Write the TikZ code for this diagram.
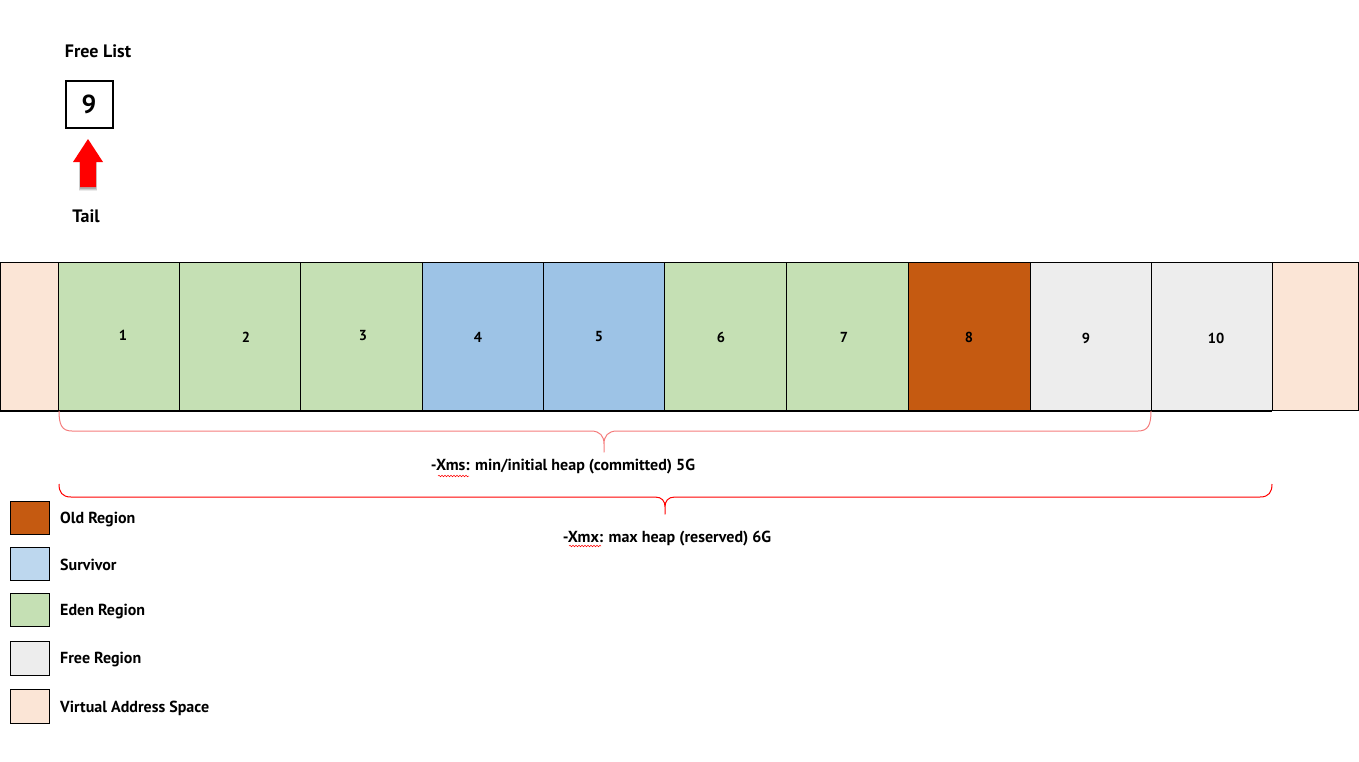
\documentclass[tikz,border=0pt]{standalone}
\usepackage{fontspec}
\setmainfont{PT Sans}
\usetikzlibrary{decorations.pathmorphing}
\definecolor{eden}{HTML}{C5E0B4}
\definecolor{surv}{HTML}{9DC3E6}
\definecolor{survlight}{HTML}{BDD7EE}
\definecolor{oldc}{HTML}{C55A11}
\definecolor{freec}{HTML}{EDEDED}
\definecolor{virt}{HTML}{FBE5D6}
\definecolor{braceA}{HTML}{F47C7C}
\definecolor{braceB}{HTML}{FF0000}
\begin{document}
\begin{tikzpicture}[x=1pt,y=-1pt,
  cell/.style={draw=black, line width=0.9pt, minimum height=148.5pt, inner sep=0pt, outer sep=0pt},
  num/.style={font=\fontsize{14.5}{17}\selectfont\bfseries, inner sep=0pt},
  lbl/.style={font=\fontsize{16}{19}\selectfont\bfseries, anchor=west, inner sep=0pt},
  note/.style={font=\fontsize{16}{19}\selectfont\bfseries, inner sep=0pt},
  heading/.style={font=\fontsize{18}{21}\selectfont\bfseries, inner sep=0pt},
  legbox/.style={draw=black, line width=1pt, minimum width=39pt, minimum height=33pt, inner sep=0pt},
  bracepath/.style={line width=1pt, line join=round},
  squig/.style={draw=red, line width=0.5pt, decorate, decoration={snake, segment length=3pt, amplitude=0.8pt}}]
\useasboundingbox (0,0) rectangle (1359,761);

% ---- heap strip ----
\node[cell, fill=virt, minimum width=58pt] (vl) at (29,336.25) {};
\node[cell, fill=eden, minimum width=121pt] (c1) at (118.5,336.25) {};
\node[cell, fill=eden, minimum width=121pt] (c2) at (239.5,336.25) {};
\node[cell, fill=eden, minimum width=122pt] (c3) at (361,336.25) {};
\node[cell, fill=surv, minimum width=121pt] (c4) at (482.5,336.25) {};
\node[cell, fill=surv, minimum width=121pt] (c5) at (603.5,336.25) {};
\node[cell, fill=eden, minimum width=122pt] (c6) at (725,336.25) {};
\node[cell, fill=eden, minimum width=122pt] (c7) at (847,336.25) {};
\node[cell, fill=oldc, minimum width=122pt] (c8) at (969,336.25) {};
\node[cell, fill=freec, minimum width=121pt] (c9) at (1090.5,336.25) {};
\node[cell, fill=freec, minimum width=121pt] (c10) at (1211.5,336.25) {};
\node[cell, fill=virt, minimum width=86pt] (vr) at (1315,336.25) {};
\draw[line width=2pt] (vl.south west) -- (c10.south east);

\node[num] (n1) at (123,335) {1};
\node[num] (n2) at (246,337) {2};
\node[num] (n3) at (363,336) {3};
\node[num] (n4) at (478,337) {4};
\node[num] (n5) at (599,337) {5};
\node[num] (n6) at (721,337) {6};
\node[num] (n7) at (844,337) {7};
\node[num] (n8) at (969,337) {8};
\node[num] (n9) at (1086,338) {9};
\node[num] (n10) at (1216,338) {10};

% ---- braces ----
\coordinate (a1) at (59,411);
\coordinate (a2) at (1151,411);
\coordinate (b1) at (59,484);
\coordinate (b2) at (1272,484);
\draw[bracepath, braceA] (a1) .. controls (59,425) and (62,431) .. (72,431) -- (591,431)
  .. controls (600,431) and (604,436) .. (604,444) -- (604,452) -- (604,444)
  .. controls (604,436) and (608,431) .. (617,431) -- (1138,431)
  .. controls (1148,431) and (1151,425) .. (a2);
\draw[bracepath, braceB] (b1) .. controls (59,492) and (62,497) .. (71,497) -- (655,497)
  .. controls (662,497) and (665,501) .. (665,507) -- (665,514) -- (665,507)
  .. controls (665,501) and (668,497) .. (675,497) -- (1260,497)
  .. controls (1269,497) and (1272,492) .. (b2);

\node[note] (t1) at (563,467) {-Xms: min/initial heap (committed) 5G};
\node[note] (t2) at (667,539) {-Xmx: max heap (reserved) 6G};
\draw[squig] (438,476) -- (469,476);
\draw[squig] (569,546) -- (601,546);

% ---- free list ----
\node[heading] (fl) at (98,51.5) {Free List};
\node[draw=black, line width=2pt, minimum width=47pt, minimum height=47pt, inner sep=0pt,
      font=\fontsize{26}{30}\selectfont\bfseries] (box) at (89,104) {9};
\node[heading] (tail) at (86,216) {Tail};
\foreach \o/\op in {3.5/0.08, 2.5/0.12, 1.5/0.16}
  \fill[black, opacity=\op] (80-0.3*\o,162) -- (96+0.3*\o,162) -- (96+0.3*\o,187+\o) -- (80-0.3*\o,187+\o) -- cycle;
\fill[red] (88,139) -- (103,162) -- (96,162) -- (96,187) -- (80,187) -- (80,162) -- (73,162) -- cycle;

% ---- legend ----
\node[legbox, fill=oldc] (l1) at (29.5,517.5) {};
\node[legbox, fill=survlight] (l2) at (29.5,563.5) {};
\node[legbox, fill=eden] (l3) at (29.5,609.5) {};
\node[legbox, fill=freec, minimum height=34pt] (l4) at (29.5,658) {};
\node[legbox, fill=virt, minimum height=34pt] (l5) at (29.5,706.5) {};
\node[lbl] (k1) at (60,519) {Old Region};
\node[lbl] (k2) at (60,565) {Survivor};
\node[lbl] (k3) at (60,611) {Eden Region};
\node[lbl] (k4) at (60,659) {Free Region};
\node[lbl] (k5) at (60,708) {Virtual Address Space};
\end{tikzpicture}
\end{document}
